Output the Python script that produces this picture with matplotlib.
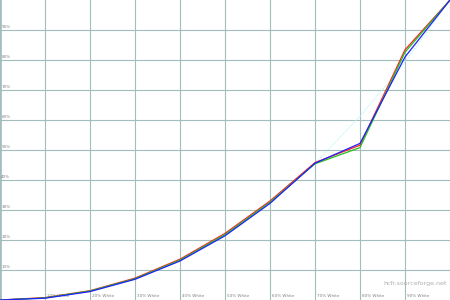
import matplotlib
matplotlib.use("Agg")
import matplotlib.pyplot as plt
import numpy as np

# niveaux de gris mesures (% blanc) et luminance relative (%)
levels = [0, 10, 20, 30, 40, 50, 60, 70, 80, 90, 100]
lum_red = [0.0, 0.8, 3.1, 7.3, 13.6, 22.2, 33.0, 45.8, 51.6, 83.4, 100.0]
lum_green = [0.0, 0.7, 3.0, 7.1, 13.3, 21.8, 32.6, 45.4, 50.8, 82.6, 100.0]
lum_blue = [0.0, 0.6, 2.8, 6.9, 13.0, 21.4, 32.2, 45.6, 52.2, 81.0, 100.0]
lum_ref = [0.0, 0.6, 2.9, 7.1, 13.3, 21.8, 32.5, 45.6, 61.2, 79.3, 100.0]

y_ticks = [10, 20, 30, 40, 50, 60, 70, 80, 90]
x_labels = ["10% White", "20% White", "30% White", "40% White", "50% White",
            "60% White", "70% White", "80% White", "90% White"]

grid_col = "#a3bdbd"
txt_col = "#808080"

fig = plt.figure(figsize=(4.5, 3), dpi=100)
ax = fig.add_axes([0, 0, 1, 1])
ax.set_xlim(0, 100)
ax.set_ylim(0, 100)
ax.axis("off")

for x in range(0, 101, 10):
    ax.axvline(x, color=grid_col, lw=0.8, zorder=1)
for y in y_ticks:
    ax.axhline(y, color=grid_col, lw=0.8, zorder=1)
ax.axvline(0.2, color=grid_col, lw=1.2, zorder=1)

for y in y_ticks:
    ax.text(0.3, y + 0.4, "%d%%" % y, fontsize=3, color=txt_col, ha="left", va="bottom")
for x, lab in zip(range(10, 100, 10), x_labels):
    ax.text(x + 0.4, 0.6, lab, fontsize=3, color=txt_col, ha="left", va="bottom")
ax.text(99.3, 4.5, "hcfr.sourceforge.net", fontsize=4.5, color="#b0b0b0", ha="right", va="bottom")

ax.plot(levels, lum_ref, color="#b8f4f4", lw=0.8, ls=(0, (1, 1)), zorder=2)
ax.plot(levels, lum_red, color="#ff2020", lw=0.9, zorder=3)
ax.plot(levels, lum_green, color="#20c020", lw=0.9, zorder=3)
ax.plot(levels, lum_blue, color="#2020ff", lw=0.9, zorder=4)

fig.savefig("out.png", dpi=100)
